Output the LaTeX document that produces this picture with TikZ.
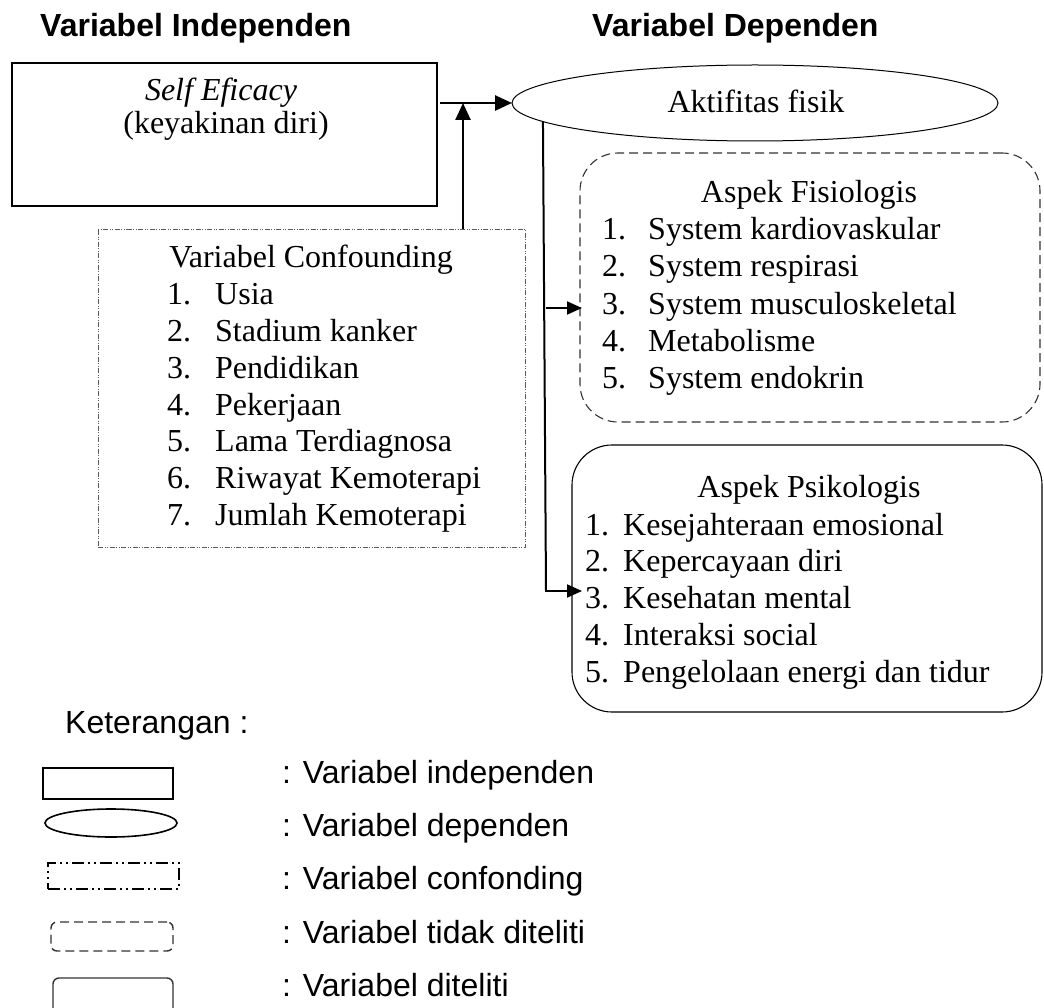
\documentclass[tikz,border=0pt]{standalone}
\usepackage{fontspec}
\setmainfont{Liberation Serif}
\newfontfamily\arialf{Liberation Sans}
\usetikzlibrary{arrows.meta,shapes.geometric}
\begin{document}
\begin{tikzpicture}[x=1pt,y=-1pt,
  txt/.style={font=\fontsize{32}{36.8}\selectfont, inner sep=0pt},
  sans/.style={font=\arialf\fontsize{32}{36.8}\selectfont, inner sep=0pt},
  bold/.style={font=\arialf\bfseries\fontsize{32}{36.8}\selectfont, inner sep=0pt},
  shp/.style={draw, inner sep=0pt, outer sep=0pt},
  dashdot/.style={dash pattern=on 5pt off 1.5pt on 1pt off 1.5pt on 1pt off 1.5pt},
  legdashdot/.style={dash pattern=on 12pt off 4pt on 2pt off 4pt on 2pt off 4pt},
  bigarr/.style={line width=2.6pt, -{Triangle[length=17pt,width=15pt]}},
  smallarr/.style={line width=2pt, -{Triangle[length=15pt,width=13pt]}},
  trunk/.style={line width=2pt}
]
\useasboundingbox (0,0) rectangle (1044,1008);

% titles
\node[bold, anchor=base west] (t1) at (40,37) {Variabel Independen};
\node[bold, anchor=base west] (t2) at (592,37) {Variabel Dependen};

% self efficacy box
\node[shp, line width=1.1pt, minimum width=425pt, minimum height=143pt] (se) at (224.5,134.5) {};
\node[txt, anchor=base] (se1) at (221,101) {\itshape Self Eficacy};
\node[txt, anchor=base] (se2) at (226,134) {(keyakinan diri)};

% ellipse
\node[shp, ellipse, line width=1pt, minimum width=486pt, minimum height=76pt] (ell) at (755,103) {};
\node[txt, anchor=base] (ellt) at (756,113) {Aktifitas fisik};

% confounding box
\node[shp, dashdot, draw=black!65, line width=0.9pt, minimum width=427pt, minimum height=318pt] (conf) at (311.5,388) {};
\node[txt, anchor=base] (c0) at (311,268) {Variabel Confounding};
\foreach \n/\t/\y in {1/Usia/305,2/Stadium kanker/341.7,3/Pendidikan/378.4,4/Pekerjaan/415.1,5/Lama Terdiagnosa/451.8,6/Riwayat Kemoterapi/488.5,7/Jumlah Kemoterapi/525.2}{
  \node[txt, anchor=base west] (cn\n) at (167,\y) {\n.};
  \node[txt, anchor=base west] (ct\n) at (215,\y) {\t};
}

% fisiologis box
\node[shp, dashed, dash pattern=on 9pt off 5pt, line width=1.1pt, draw=black!80, rounded corners=38pt, minimum width=460pt, minimum height=269pt] (fis) at (810,287.5) {};
\node[txt, anchor=base] (f0) at (809,203) {Aspek Fisiologis};
\foreach \n/\t/\y in {1/System kardiovaskular/240,2/System respirasi/277,3/System musculoskeletal/314.5,4/Metabolisme/351.5,5/System endokrin/388}{
  \node[txt, anchor=base west] (fn\n) at (602,\y) {\n.};
  \node[txt, anchor=base west] (ft\n) at (648,\y) {\t};
}

% psikologis box
\node[shp, line width=1.1pt, rounded corners=40pt, minimum width=470pt, minimum height=267pt] (psi) at (807,578.5) {};
\node[txt, anchor=base] (p0) at (809,497) {Aspek Psikologis};
\foreach \n/\t/\y in {1/Kesejahteraan emosional/535,2/Kepercayaan diri/571.8,3/Kesehatan mental/608.6,4/Interaksi social/645.4,5/Pengelolaan energi dan tidur/682.2}{
  \node[txt, anchor=base west] (pn\n) at (585,\y) {\n.};
  \node[txt, anchor=base west] (pt\n) at (623,\y) {\t};
}

% connectors
\coordinate (j) at (463,103);
\coordinate (hs) at (440,103);
\draw[bigarr] (hs) -- (ell.west);
\draw[bigarr] (conf.north -| j) -- (j);
\coordinate (tb) at (546,591);
\coordinate (fa) at (546,308);
\coordinate (pa) at (545,591);
\coordinate (pe) at (582,591);
\draw[trunk] (ell.185.3) -- (tb);
\draw[smallarr] (fa) -- ([xshift=2pt]fa -| fis.west);
\draw[smallarr] (pa) -- (pe);

% legend
\node[sans, anchor=base west] (ket) at (65,733) {Keterangan :};
\node[shp, line width=1.6pt, minimum width=130pt, minimum height=31pt] (l1) at (108,783.5) {};
\node[shp, ellipse, line width=1.6pt, minimum width=132pt, minimum height=28pt] (l2) at (111,823) {};
\node[shp, legdashdot, line width=1.6pt, minimum width=131pt, minimum height=26pt] (l3) at (113.5,876) {};
\node[shp, dashed, dash pattern=on 9pt off 5pt, line width=1.4pt, draw=black!80, rounded corners=6pt, minimum width=122pt, minimum height=29pt] (l4) at (112,936.5) {};
\node[shp, line width=1.4pt, draw=black!80, rounded corners=6pt, minimum width=120pt, minimum height=37pt] (l5) at (113,996.5) {};
\node[sans, anchor=base west] (k1) at (282,783) {: Variabel independen};
\node[sans, anchor=base west] (k2) at (282,836) {: Variabel dependen};
\node[sans, anchor=base west] (k3) at (282,889) {: Variabel confonding};
\node[sans, anchor=base west] (k4) at (282,943) {: Variabel tidak diteliti};
\node[sans, anchor=base west] (k5) at (282,996) {: Variabel diteliti};
\end{tikzpicture}
\end{document}
